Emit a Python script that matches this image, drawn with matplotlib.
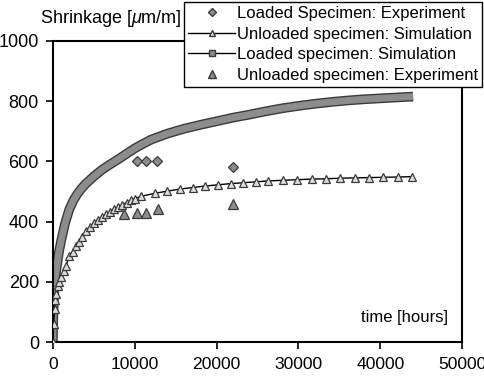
import matplotlib.pyplot as plt
import matplotlib.patheffects as pe
from matplotlib.lines import Line2D

plt.rcParams['font.family'] = ['Liberation Sans', 'DejaVu Sans']
plt.rcParams['mathtext.fontset'] = 'custom'
plt.rcParams['mathtext.it'] = 'Liberation Sans:italic'
plt.rcParams['mathtext.rm'] = 'Liberation Sans'

# Loaded specimen: simulation
loaded_sim_t = [0, 50, 100, 200, 300, 500, 750, 1000, 1500, 2000, 2500, 3000, 3500,
                4000, 5000, 6000, 7000, 8000, 9000, 10000, 11000, 12000, 14000, 16000,
                18000, 20000, 22000, 24000, 26000, 28000, 30000, 32000, 34000, 36000,
                38000, 40000, 42000, 44000]
loaded_sim_v = [0, 80, 130, 185, 215, 255, 300, 335, 395, 440, 470, 492, 510,
                525, 550, 572, 590, 607, 625, 643, 658, 672, 692, 708,
                721, 733, 745, 755, 766, 776, 784, 791, 797, 802,
                806, 809, 812, 815]

# Unloaded specimen: simulation
unloaded_sim_t = [0, 100, 200, 300, 400, 600, 800, 1000, 1300, 1600, 2000, 2400, 2800,
                  3200, 3600, 4000, 4500, 5000, 5500, 6000, 6500, 7000, 7500, 8000,
                  8500, 9000, 9500, 10000, 10800, 12470, 13970, 15530, 17080, 18620,
                  20130, 21720, 23260, 24780, 26320, 28080, 29830, 31600, 33350, 35100,
                  36850, 38600, 40350, 42100, 43850]
unloaded_sim_v = [0, 60, 110, 140, 160, 185, 200, 215, 235, 252, 285, 300, 318,
                  333, 350, 368, 382, 395, 405, 415, 424, 433, 441, 449,
                  456, 463, 470, 476, 484, 494, 501, 508, 513, 518,
                  522, 526, 529, 532, 535, 537, 539, 541, 542, 544,
                  545, 546, 547, 548, 549]

# Experiments
loaded_exp_t = [10300, 11330, 12750, 21970]
loaded_exp_v = [601, 601, 601, 582]
unloaded_exp_t = [8700, 10300, 11370, 12800, 22040]
unloaded_exp_v = [426, 430, 430, 441, 458]

fig = plt.figure(figsize=(4.85, 3.78), dpi=100)
ax = fig.add_axes([0.109, 0.095, 0.844, 0.797])

gray = '#8c8c8c'
dark = '#3a3a3a'

# loaded simulation drawn as a thick gray band
ax.plot(loaded_sim_t, loaded_sim_v, color=gray, lw=5, solid_capstyle='butt',
        path_effects=[pe.Stroke(linewidth=7, foreground=dark), pe.Normal()], zorder=2)

# unloaded simulation
ax.plot(unloaded_sim_t, unloaded_sim_v, color='black', lw=1, marker='^', markersize=6,
        mfc='#dcdcdc', mec=dark, mew=0.9, zorder=3)

ax.plot(loaded_exp_t, loaded_exp_v, ls='none', marker='D', markersize=5,
        mfc=gray, mec=dark, mew=0.9, zorder=4)
ax.plot(unloaded_exp_t, unloaded_exp_v, ls='none', marker='^', markersize=7.5,
        mfc=gray, mec=dark, mew=0.9, zorder=4)

ax.set_xlim(0, 50000)
ax.set_ylim(0, 1000)
ax.set_xticks([0, 10000, 20000, 30000, 40000, 50000])
ax.set_yticks([0, 200, 400, 600, 800, 1000])
ax.tick_params(labelsize=13, direction='out', length=5, width=1.2, colors='black')
ax.tick_params(axis='y', pad=5)
ax.tick_params(axis='x', pad=6, labelsize=12.6)
for s in ax.spines.values():
    s.set_linewidth(1.5)

ax.text(0.966, 0.08, 'time [hours]', transform=ax.transAxes, ha='right', va='center',
        fontsize=12)
fig.text(0.082, 0.952, r'Shrinkage [$\mu$m/m]', ha='left', va='center', fontsize=13)

# legend
h1 = Line2D([], [], ls='none', marker='D', markersize=4, mfc=gray, mec=dark)
h2 = Line2D([], [], color='black', lw=1, marker='^', markersize=5, mfc='#dcdcdc', mec=dark)
h3 = Line2D([], [], color='black', lw=1, marker='s', markersize=5, mfc=gray, mec=dark)
h4 = Line2D([], [], ls='none', marker='^', markersize=6, mfc=gray, mec=dark)
leg = fig.legend([h1, h2, h3, h4],
                 ['Loaded Specimen: Experiment', 'Unloaded specimen: Simulation',
                  'Loaded specimen: Simulation', 'Unloaded specimen: Experiment'],
                 loc='upper right', bbox_to_anchor=(0.994, 0.995), fontsize=12,
                 fancybox=False, framealpha=1, edgecolor='black', borderpad=0.25,
                 labelspacing=0.33, handlelength=2.8, handletextpad=0.1,
                 borderaxespad=0)
leg.get_frame().set_linewidth(1.0)

fig.savefig('out.png', dpi=100)
